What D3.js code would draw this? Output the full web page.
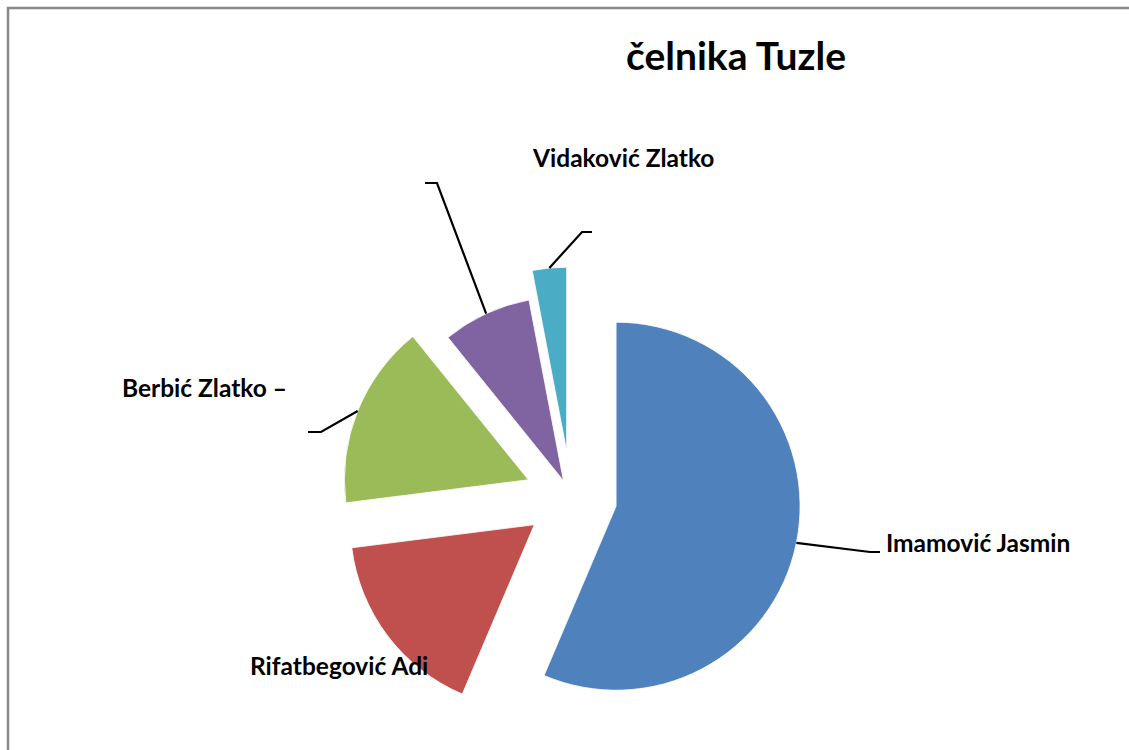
<!DOCTYPE html>
<meta charset="utf-8">
<title>čelnika Tuzle</title>
<script src="https://d3js.org/d3.v7.min.js"></script>
<style>
  body { margin: 0; background: #fff; }
  text { font-family: Lato, 'Open Sans', sans-serif; font-weight: bold; fill: #000; }
  text.title { font-size: 39px; text-anchor: middle; }
  text.label { font-size: 24.5px; }
  path.leader { fill: none; stroke: #000; stroke-width: 2.2px; }
</style>
<div id="chart"></div>
<script>
// data (share of votes, %)
var candidates = ["Imamović Jasmin", "Rifatbegović Adi", "Berbić Zlatko –", "", "Vidaković Zlatko"];
var votes = [56.4, 16.6, 16.2, 7.8, 3.0];
var colors = ["#4F81BD", "#C0504D", "#9BBB59", "#8064A2", "#4BACC6"];
var explode = [46, 46, 46, 18, 46];

var width = 1129, height = 750;
var cx = 571, cy = 497, radius = 184;

// where excel had put each data label (elbow, end of leader, text start)
var labelLayout = [
  {elbow: [870, 552], end: [880, 552], text: [886, 552]},
  {elbow: null, end: null, text: [250, 675]},
  {elbow: [321, 432], end: [308, 432], text: [122, 397]},
  {elbow: [437, 183], end: [425, 183], text: null},
  {elbow: [582, 232], end: [592, 232], text: [533, 167]}
];

var svg = d3.select("#chart").append("svg")
  .attr("width", width)
  .attr("height", height);

// chart area border (only top/left visible)
svg.append("rect")
  .attr("x", 8).attr("y", 8)
  .attr("width", width + 50).attr("height", height + 50)
  .attr("fill", "none")
  .attr("stroke", "#878787")
  .attr("stroke-width", 2.5);

svg.append("text")
  .attr("class", "title")
  .attr("x", 736)
  .attr("y", 70)
  .text("čelnika Tuzle");

var data = votes.map(function(v, i) { return {name: candidates[i], value: v, i: i}; });

var pie = d3.pie().sort(null).value(function(d) { return d.value; });
var arc = d3.arc().innerRadius(0).outerRadius(radius);
var arcs = pie(data);

function offset(d) {
  var a = (d.startAngle + d.endAngle) / 2;
  var e = explode[d.data.i];
  return [cx + Math.sin(a) * e, cy - Math.cos(a) * e];
}

var g = svg.append("g");

g.selectAll("path.slice")
  .data(arcs)
  .enter()
  .append("path")
  .attr("class", "slice")
  .attr("transform", function(d) { var o = offset(d); return "translate(" + o[0] + "," + o[1] + ")"; })
  .attr("d", arc)
  .attr("fill", function(d) { return colors[d.data.i]; })
  .attr("stroke", "#fff")
  .attr("stroke-width", 0.8);

// leader lines
arcs.forEach(function(d) {
  var L = labelLayout[d.data.i];
  if (!L.elbow) return;
  var o = offset(d);
  var a = (d.startAngle + d.endAngle) / 2;
  var p0 = [o[0] + Math.sin(a) * radius, o[1] - Math.cos(a) * radius];
  svg.append("path")
    .attr("class", "leader")
    .attr("d", d3.line()([p0, L.elbow, L.end]));
});

// labels
arcs.forEach(function(d) {
  var L = labelLayout[d.data.i];
  if (!L.text || !d.data.name) return;
  svg.append("text")
    .attr("class", "label")
    .attr("x", L.text[0])
    .attr("y", L.text[1])
    .text(d.data.name);
});
</script>
